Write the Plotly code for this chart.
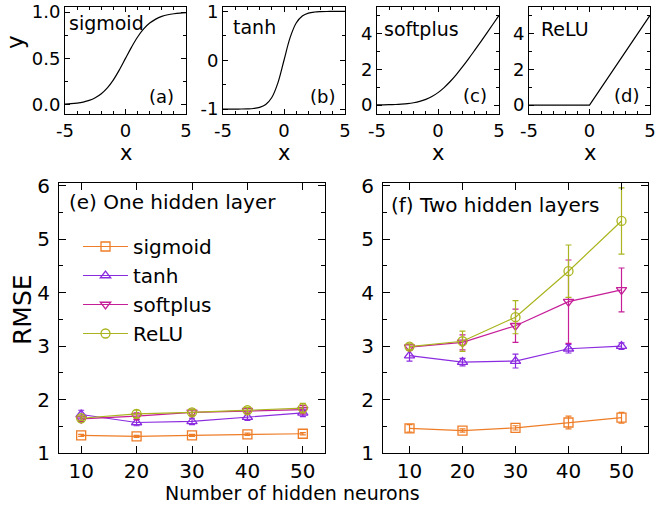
import plotly.graph_objects as go

W, H = 658, 511
FONT = "DejaVu Sans"

# ---- top panels: activation functions ----
x_act = [-5, -4.5, -4, -3.5, -3, -2.5, -2, -1.5, -1, -0.5, 0, 0.5, 1, 1.5, 2, 2.5, 3, 3.5, 4, 4.5, 5]
y_sigmoid = [0.007, 0.011, 0.018, 0.029, 0.047, 0.076, 0.119, 0.182, 0.269, 0.378, 0.5,
             0.622, 0.731, 0.818, 0.881, 0.924, 0.953, 0.971, 0.982, 0.989, 0.993]
y_tanh = [-1.0, -1.0, -0.999, -0.998, -0.995, -0.987, -0.964, -0.905, -0.762, -0.462, 0.0,
          0.462, 0.762, 0.905, 0.964, 0.987, 0.995, 0.998, 0.999, 1.0, 1.0]
y_softplus = [0.007, 0.011, 0.018, 0.030, 0.049, 0.079, 0.127, 0.201, 0.313, 0.474, 0.693,
              0.974, 1.313, 1.701, 2.127, 2.579, 3.049, 3.530, 4.018, 4.511, 5.007]
x_relu = [-5, 0, 5]
y_relu = [0, 0, 5]

# ---- bottom panels: RMSE vs number of hidden neurons ----
neurons = [10, 20, 30, 40, 50]
series_names = ["sigmoid", "tanh", "softplus", "ReLU"]
colors = {"sigmoid": "#EE7D27", "tanh": "#8B2BE0", "softplus": "#C51E98", "ReLU": "#AAB41E"}
symbols = {"sigmoid": "square-open", "tanh": "triangle-up-open",
           "softplus": "triangle-down-open", "ReLU": "circle-open"}

one_mean = {
    "sigmoid": [1.33, 1.31, 1.33, 1.35, 1.36],
    "tanh": [1.72, 1.57, 1.59, 1.67, 1.75],
    "softplus": [1.64, 1.69, 1.76, 1.79, 1.81],
    "ReLU": [1.65, 1.73, 1.76, 1.80, 1.84],
}
one_err = {
    "sigmoid": [0.02, 0.02, 0.02, 0.02, 0.02],
    "tanh": [0.08, 0.06, 0.06, 0.06, 0.07],
    "softplus": [0.05, 0.06, 0.06, 0.05, 0.08],
    "ReLU": [0.04, 0.07, 0.05, 0.05, 0.09],
}
two_mean = {
    "sigmoid": [1.46, 1.42, 1.47, 1.57, 1.66],
    "tanh": [2.82, 2.70, 2.72, 2.95, 3.00],
    "softplus": [2.98, 3.07, 3.38, 3.83, 4.05],
    "ReLU": [2.99, 3.09, 3.54, 4.40, 5.34],
}
two_err = {
    "sigmoid": [0.07, 0.03, 0.04, 0.12, 0.10],
    "tanh": [0.10, 0.07, 0.13, 0.08, 0.06],
    "softplus": [0.05, 0.14, 0.31, 0.78, 0.41],
    "ReLU": [0.05, 0.19, 0.31, 0.49, 0.62],
}

fig = go.Figure()

# top panel curves
top = [("x", "y", x_act, y_sigmoid), ("x2", "y2", x_act, y_tanh),
       ("x3", "y3", x_act, y_softplus), ("x4", "y4", x_relu, y_relu)]
for xa, ya, xs, ys in top:
    fig.add_trace(go.Scatter(x=xs, y=ys, xaxis=xa, yaxis=ya, mode="lines",
                             line=dict(color="black", width=1.2, shape="spline" if len(xs) > 3 else "linear"),
                             showlegend=False, hoverinfo="skip"))

# bottom panels
for name in series_names:
    c = colors[name]
    for xa, ya, mean, err, leg in [("x5", "y5", one_mean, one_err, True),
                                   ("x6", "y6", two_mean, two_err, False)]:
        fig.add_trace(go.Scatter(
            x=neurons, y=mean[name], xaxis=xa, yaxis=ya, mode="lines+markers",
            name=name, showlegend=leg, legendgroup=name,
            line=dict(color=c, width=1.2),
            marker=dict(symbol=symbols[name], size=9, color=c, line=dict(width=1.3, color=c)),
            error_y=dict(type="data", array=err[name], color=c, thickness=1.2, width=3),
        ))

def px_x(p):
    return p / W

def px_y(p):
    return 1 - p / H

axis_common = dict(showline=True, linecolor="black", linewidth=1, mirror="allticks",
                   ticks="inside", tickcolor="black", showgrid=False, zeroline=False,
                   automargin=False)

top_dom_y = [px_y(114), px_y(6.5)]
top_x_doms = [(65, 186), (223, 345), (377, 499), (529, 650)]
top_y_cfg = [
    dict(range=[-0.1, 1.06], tickvals=[0.0, 0.5, 1.0], ticktext=["0.0", "0.5", "1.0"], mdt=0.25),
    dict(range=[-1.1, 1.1], tickvals=[-1, 0, 1], ticktext=["-1", "0", "1"], mdt=0.5),
    dict(range=[-0.5, 5.5], tickvals=[0, 2, 4], ticktext=["0", "2", "4"], mdt=1),
    dict(range=[-0.5, 5.5], tickvals=[0, 2, 4], ticktext=["0", "2", "4"], mdt=1),
]
layout = dict()
for i in range(4):
    k = "" if i == 0 else str(i + 1)
    cfg = top_y_cfg[i]
    layout["xaxis" + k] = dict(
        axis_common, domain=[px_x(top_x_doms[i][0]), px_x(top_x_doms[i][1])],
        anchor="y" + k, range=[-5, 5], tickvals=[-5, 0, 5], ticktext=["-5", "0", "5"],
        ticklen=5, ticklabelstandoff=0, tickfont=dict(size=18, color="black", family=FONT),
        minor=dict(ticks="inside", ticklen=3, dtick=1, tickcolor="black"),
    )
    layout["yaxis" + k] = dict(
        axis_common, domain=top_dom_y, anchor="x" + k, range=cfg["range"],
        tickvals=cfg["tickvals"], ticktext=cfg["ticktext"], ticklen=5,
        tickfont=dict(size=18, color="black", family=FONT),
        minor=dict(ticks="inside", ticklen=3, dtick=cfg["mdt"], tickcolor="black"),
    )

bot_dom_y = [px_y(453), px_y(183)]
for k, (x0, x1), xr in [("5", (59, 325), [6, 54]), ("6", (383, 648), [5, 55])]:
    layout["xaxis" + k] = dict(
        axis_common, domain=[px_x(x0), px_x(x1)], anchor="y" + k, range=xr,
        tickvals=neurons, ticklen=7, ticklabelstandoff=0,
        tickfont=dict(size=20, color="black", family=FONT),
    )
    layout["yaxis" + k] = dict(
        axis_common, domain=bot_dom_y, anchor="x" + k, range=[1, 6.05],
        tickvals=[1, 2, 3, 4, 5, 6], ticklen=7, ticklabelstandoff=4,
        tickfont=dict(size=20, color="black", family=FONT),
        minor=dict(ticks="inside", ticklen=4, dtick=0.5, tickcolor="black"),
    )

def ann(text, x, y, size, xanchor="left", angle=0):
    return dict(text=text, x=px_x(x), y=px_y(y), xref="paper", yref="paper",
                xanchor=xanchor, yanchor="middle", showarrow=False, textangle=angle,
                font=dict(size=size, color="black", family=FONT))

annotations = [
    ann("y", 15, 42, 23, "center", -90),
    ann("x", 125.5, 153, 21, "center"),
    ann("x", 284, 153, 21, "center"),
    ann("x", 438, 153, 21, "center"),
    ann("x", 589.5, 153, 21, "center"),
    ann("RMSE", 22, 310, 25, "center", -90),
    ann("Number of hidden neurons", 292, 493, 19, "center"),
    ann("sigmoid", 67, 23, 19),
    ann("tanh", 231, 27, 19),
    ann("softplus", 382, 29, 19),
    ann("ReLU", 539, 29, 19),
    ann("(a)", 161, 97, 18, "center"),
    ann("(b)", 322, 97, 18, "center"),
    ann("(c)", 475, 95, 18, "center"),
    ann("(d)", 626, 95, 18, "center"),
    ann("(e) One hidden layer", 67, 202, 20),
    ann("(f) Two hidden layers", 389, 205, 20),
]

fig.update_layout(
    **layout,
    width=W, height=H,
    margin=dict(l=0, r=0, t=0, b=0),
    paper_bgcolor="white", plot_bgcolor="white",
    font=dict(family=FONT, color="black"),
    annotations=annotations,
    legend=dict(x=px_x(78), y=px_y(227), xanchor="left", yanchor="top",
                bgcolor="rgba(0,0,0,0)", font=dict(size=20, color="black", family=FONT),
                itemwidth=45, tracegroupgap=0),
    showlegend=True,
)

fig.write_html("out.html")
